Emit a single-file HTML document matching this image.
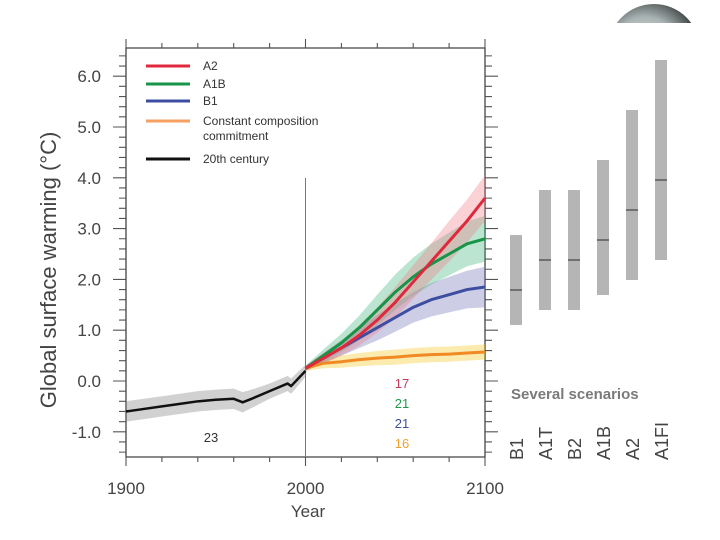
<!DOCTYPE html>
<html><head><meta charset="utf-8"><style>
html,body{margin:0;padding:0;background:#fff;}
svg{display:block;font-family:"Liberation Sans",sans-serif;}
</style></head><body>
<svg id="chart" width="720" height="540" viewBox="0 0 720 540">
<defs>
<radialGradient id="gl" cx="0.4" cy="0.5" r="0.6"><stop offset="0" stop-color="#e8ecdc"/><stop offset="0.6" stop-color="#a9b3b3"/><stop offset="1" stop-color="#3a4040"/></radialGradient>
<clipPath id="gc"><rect x="600" y="0" width="110" height="23"/></clipPath>
</defs>
<circle cx="654" cy="50" r="46" fill="url(#gl)" clip-path="url(#gc)"/>
<g id="axes"></g>
<g id="marks"></g>
<g id="labels"></g>
</svg>
<script>
const years20 = [1900,1910,1920,1930,1940,1950,1960,1965,1970,1980,1990,1992,2000];
const temp20 = [-0.6,-0.55,-0.5,-0.45,-0.4,-0.37,-0.35,-0.42,-0.35,-0.2,-0.05,-0.1,0.2];
const spread20 = [0.2,0.2,0.2,0.2,0.2,0.2,0.2,0.2,0.18,0.15,0.15,0.15,0.12];
const yearsProj = [2000,2010,2020,2030,2040,2050,2060,2070,2080,2090,2100];
const a2Vals = [0.25,0.45,0.65,0.9,1.2,1.55,1.95,2.35,2.75,3.15,3.6];
const a2Spread = [0.05,0.1,0.15,0.2,0.25,0.3,0.33,0.36,0.4,0.42,0.45];
const a1bVals = [0.25,0.5,0.75,1.05,1.4,1.75,2.05,2.3,2.5,2.7,2.8];
const a1bSpread = [0.05,0.12,0.18,0.24,0.3,0.35,0.38,0.4,0.42,0.44,0.45];
const b1Vals = [0.25,0.45,0.65,0.85,1.05,1.25,1.45,1.6,1.7,1.8,1.85];
const b1Spread = [0.05,0.1,0.15,0.2,0.25,0.28,0.3,0.33,0.35,0.37,0.4];
const ccVals = [0.25,0.35,0.38,0.42,0.45,0.47,0.5,0.52,0.53,0.55,0.57];
const ccSpread = [0.05,0.1,0.12,0.13,0.14,0.15,0.15,0.15,0.15,0.15,0.15];
const scenarios = ["B1","A1T","B2","A1B","A2","A1FI"];
const scenLow = [1.1,1.4,1.4,1.7,2.0,2.4];
const scenHigh = [2.9,3.8,3.8,4.4,5.4,6.4];
const scenBest = [1.8,2.4,2.4,2.8,3.4,4.0];
const yTicks = [-1,0,1,2,3,4,5,6];
const yTickLabels = ["-1.0","0.0","1.0","2.0","3.0","4.0","5.0","6.0"];
const xTicks = [1900,2000,2100];
const modelCounts = ["17","21","21","16"];

const NS="http://www.w3.org/2000/svg";
const L=126,R=485,T=48,B=457;
const xs=y=>L+(y-1900)/200*(R-L);
const ys=v=>381-v*50.8;
const ysBar=v=>380-v*50;
const scenX=i=>516+i*29;
function mk(parent,tag,attrs){const e=document.createElementNS(NS,tag);for(const k in attrs)e.setAttribute(k,attrs[k]);document.getElementById(parent).appendChild(e);return e;}
function txt(parent,x,y,s,attrs){const e=mk(parent,"text",Object.assign({x:x,y:y},attrs));e.textContent=s;return e;}

let f=mk("axes","path",{d:`M${L},${B}V${T}H${R}V${B}H${L}`,fill:"none",stroke:"#444","stroke-width":1.3});


let ticks="";
for(let v=-1.4;v<=6.45;v+=0.2){const y=ys(v);const maj=Math.abs(v-Math.round(v))<0.01;const len=maj?13:7;ticks+=`M${L},${y}h${-len}M${R},${y}h${len}`;}
for(let yr=1900;yr<=2100;yr+=20){const x=xs(yr);const maj=yr%100===0;const len=maj?9:5;ticks+=`M${x},${B}v${len}M${x},${T}v${-len}`;}
let tk=mk("axes","path",{d:ticks,stroke:"#555","stroke-width":1.1,fill:"none"});


yTicks.forEach((v,i)=>{let t=txt("axes",101,ys(v)+6,yTickLabels[i],{"text-anchor":"end","font-size":17,fill:"#444"});

});
xTicks.forEach(v=>{let t=txt("axes",xs(v),494,String(v),{"text-anchor":"middle","font-size":17,fill:"#444"});

});
let xt=txt("axes",308,517,"Year",{"text-anchor":"middle","font-size":17,fill:"#444"});


let yt=txt("axes",0,0,"Global surface warming (°C)",{"text-anchor":"middle","font-size":22,fill:"#444",transform:"translate(56,270) rotate(-90)"});


let vl=mk("axes","line",{x1:xs(2000),x2:xs(2000),y1:178,y2:B,stroke:"#777","stroke-width":1});



function band(xsArr,vals,spr,color,name){
 let d="M"+xsArr.map((yr,i)=>xs(yr)+","+ys(vals[i]+spr[i])).join("L");
 for(let i=xsArr.length-1;i>=0;i--)d+="L"+xs(xsArr[i])+","+ys(vals[i]-spr[i]);
 let e=mk("marks","path",{d:d+"Z",fill:color,"fill-opacity":0.35});
 
 
}
function line(xsArr,vals,color,name,w){
 let e=mk("marks","polyline",{points:xsArr.map((yr,i)=>xs(yr)+","+ys(vals[i])).join(" "),fill:"none",stroke:color,"stroke-width":w,"stroke-linejoin":"round"});
 
 
}
band(years20,temp20,spread20,"#7a7a7a","20th-century");
band(yearsProj,ccVals,ccSpread,"#f5c518","commitment");
band(yearsProj,b1Vals,b1Spread,"#6f74b8","b1");
band(yearsProj,a1bVals,a1bSpread,"#3fb57a","a1b");
band(yearsProj,a2Vals,a2Spread,"#f07b85","a2");
line(years20,temp20,"#111","20th-century",2.5);
line(yearsProj,ccVals,"#f08a24","commitment",3);
line(yearsProj,b1Vals,"#3d4ea0","b1",3);
line(yearsProj,a1bVals,"#169447","a1b",3);
line(yearsProj,a2Vals,"#e0283c","a2",3);

const cColors=["#c8385a","#1e9a4a","#3d4ea0","#f0a030"];
modelCounts.forEach((s,i)=>{let t=txt("labels",402,388+i*20,s,{"text-anchor":"middle","font-size":13,fill:cColors[i]});

});
let t23=txt("labels",211,442,"23",{"text-anchor":"middle","font-size":13,fill:"#333"});



const legNames=["A2","A1B","B1","Constant composition","20th century"];
const legColors=["#e0283c","#169447","#3d4ea0","#f5a060","#111"];
const legY=[66,84,101,121,159];
legNames.forEach((n,i)=>{
 let l=mk("labels","line",{x1:146,x2:190,y1:legY[i],y2:legY[i],stroke:legColors[i],"stroke-width":3});
 
 
 let t=txt("labels",203,legY[i]+4,n,{"font-size":12,fill:"#333"});
 
 
});
let lc=txt("labels",203,140,"commitment",{"font-size":12,fill:"#333"});



scenarios.forEach((s,i)=>{
 const x=scenX(i);
 let r=mk("marks","rect",{x:x-6,y:ysBar(scenHigh[i]),width:12,height:ysBar(scenLow[i])-ysBar(scenHigh[i]),fill:"#b5b5b5"});
 
 
 let m=mk("marks","line",{x1:x-6,x2:x+6,y1:ysBar(scenBest[i]),y2:ysBar(scenBest[i]),stroke:"#444","stroke-width":1.2});
 
 
 let t=txt("labels",0,0,s,{"font-size":18,fill:"#444",transform:`translate(${x+7},460) rotate(-90)`});
 
 
});
let ss=txt("labels",511,399,"Several scenarios",{"font-size":15,"font-weight":"bold",fill:"#7a7a7a"});


</script>
</body></html>
